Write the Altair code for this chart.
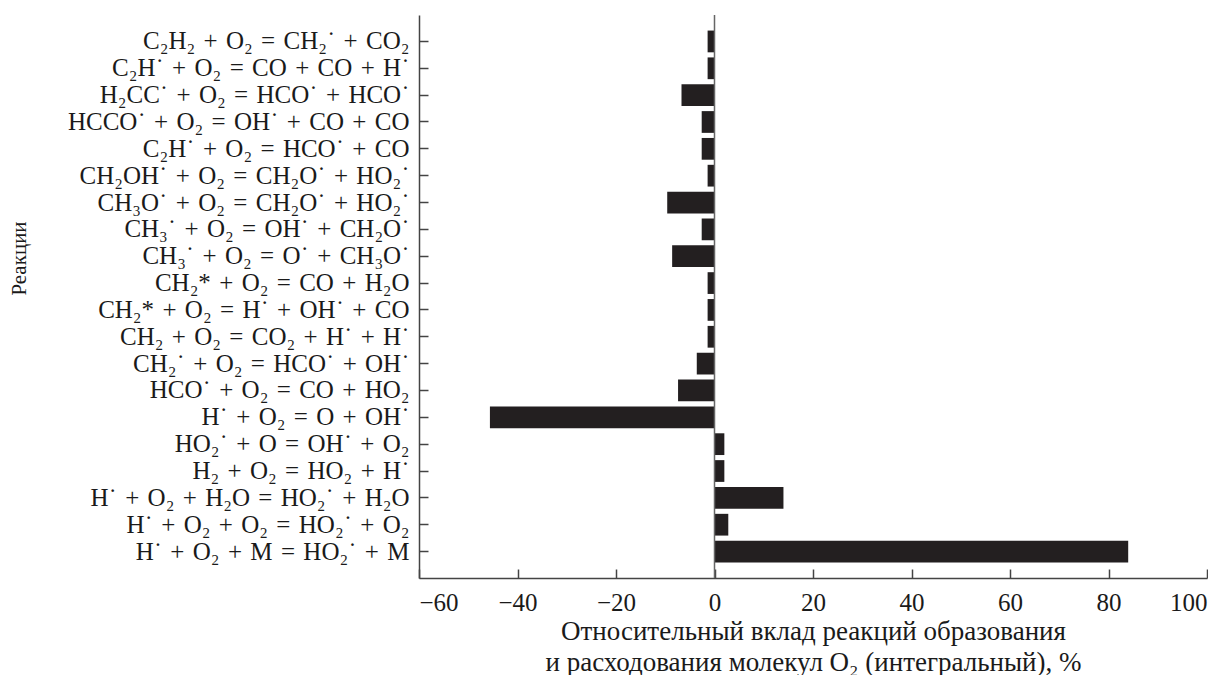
import altair as alt
import pandas as pd

reactions = [
    "C₂H₂ + O₂ = CH₂˙ + CO₂",
    "C₂H˙ + O₂ = CO + CO + H˙",
    "H₂CC˙ + O₂ = HCO˙ + HCO˙",
    "HCCO˙ + O₂ = OH˙ + CO + CO",
    "C₂H˙ + O₂ = HCO˙ + CO",
    "CH₂OH˙ + O₂ = CH₂O˙ + HO₂˙",
    "CH₃O˙ + O₂ = CH₂O˙ + HO₂˙",
    "CH₃˙ + O₂ = OH˙ + CH₂O˙",
    "CH₃˙ + O₂ = O˙ + CH₃O˙",
    "CH₂* + O₂ = CO + H₂O",
    "CH₂* + O₂ = H˙ + OH˙ + CO",
    "CH₂ + O₂ = CO₂ + H˙ + H˙",
    "CH₂˙ + O₂ = HCO˙ + OH˙",
    "HCO˙ + O₂ = CO + HO₂",
    "H˙ + O₂ = O + OH˙",
    "HO₂˙ + O = OH˙ + O₂",
    "H₂ + O₂ = HO₂ + H˙",
    "H˙ + O₂ + H₂O = HO₂˙ + H₂O",
    "H˙ + O₂ + O₂ = HO₂˙ + O₂",
    "H˙ + O₂ + M = HO₂˙ + M",
]
contribution = [-1.4, -1.4, -6.7, -2.6, -2.6, -1.4, -9.6, -2.6, -8.6, -1.4,
                -1.4, -1.4, -3.6, -7.4, -45.6, 2.0, 2.0, 14.0, 2.8, 84.0]
x_ticks = [-60, -40, -20, 0, 20, 40, 60, 80, 100]
x_title = ["Относительный вклад реакций образования",
           "и расходования молекул O₂ (интегральный), %"]
y_title = "Реакции"

# slightly wider spaces around the operators, as typeset in the original
labels = [r.replace(" ", "\u2004") for r in reactions]
df = pd.DataFrame({"reaction": labels, "value": contribution})

W, H = 788, 563
FONT = "Liberation Serif"
INK = "#231f20"
AX = "#444444"
TXT = "#1a1a1a"

yscale = alt.Scale(domain=labels, paddingInner=0.19, paddingOuter=0.58)
xscale = alt.Scale(domain=[-60, 100], nice=False)

bars = alt.Chart(df).mark_bar(color=INK).encode(
    x=alt.X("value:Q", scale=xscale,
            axis=alt.Axis(values=x_ticks, title=x_title, orient="bottom",
                          tickSize=0, labelPadding=12, grid=False,
                          domainColor=AX, domainWidth=1.5,
                          labelFont=FONT, labelFontSize=25, labelColor=TXT,
                          titleFont=FONT, titleFontSize=27, titleFontWeight="normal",
                          titleColor=TXT, titlePadding=3, titleLineHeight=31,
                          labelExpr="replace(datum.label, '-', '−')")),
    y=alt.Y("reaction:N", scale=yscale, sort=labels,
            axis=alt.Axis(title=y_title, orient="left", tickSize=0,
                          labelPadding=10, labelLimit=700,
                          domainColor=AX, domainWidth=1.5,
                          labelFont=FONT, labelFontSize=25, labelColor=TXT,
                          titleFont=FONT, titleFontSize=21, titleFontWeight="normal",
                          titleColor=TXT, titleX=-390, titleY=243,
                          titleAngle=270, titleBaseline="bottom",
                          titleAlign="center")),
)

ticks = alt.Chart(df).mark_bar(opacity=0).encode(
    x=alt.X("value:Q", scale=xscale,
            axis=alt.Axis(values=x_ticks, orient="top", offset=-H, labels=False,
                          domain=False, grid=False, title=None, tickSize=9,
                          tickColor=AX, tickWidth=1.5)),
    y=alt.Y("reaction:N", scale=yscale, sort=labels,
            axis=alt.Axis(orient="right", offset=-W, labels=False, domain=False,
                          grid=False, title=None, tickSize=9, tickColor=AX,
                          tickWidth=1.5)),
)

zero = alt.Chart(pd.DataFrame({"z": [0]})).mark_rule(color="#666666", strokeWidth=1.5).encode(
    x=alt.X("z:Q", scale=xscale, axis=None)
)

chart = alt.layer(bars, ticks, zero).resolve_axis(
    x="independent", y="independent"
).properties(
    width=W, height=H, padding={"left": 0, "top": 6, "right": 0, "bottom": 0}
).configure_view(stroke=None)

chart.save("out.html", embed_options={"renderer": "svg", "actions": False})
